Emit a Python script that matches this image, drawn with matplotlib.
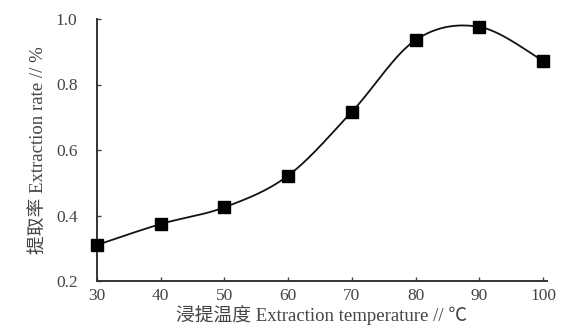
import numpy as np
import matplotlib
matplotlib.use("Agg")
import matplotlib.pyplot as plt

plt.rcParams['font.family'] = ['Liberation Serif', 'Noto Sans CJK SC', 'DejaVu Sans']

temps = [30, 40, 50, 60, 70, 80, 90, 100]
rates = [0.31, 0.374, 0.425, 0.522, 0.717, 0.936, 0.976, 0.872]
xticks = [30, 40, 50, 60, 70, 80, 90, 100]
yticks = [0.2, 0.4, 0.6, 0.8, 1.0]
ytick_labels = ["0.2", "0.4", "0.6", "0.8", "1.0"]


def smooth(x, y, n=30):
    # Excel-like smoothed line (Catmull-Rom style Bezier)
    x = np.asarray(x, float); y = np.asarray(y, float)
    px = np.concatenate([[x[0]], x, [x[-1]]])
    py = np.concatenate([[y[0]], y, [y[-1]]])
    xs, ys = [], []
    t = np.linspace(0, 1, n)
    for i in range(1, len(px) - 2):
        p0 = np.array([px[i - 1], py[i - 1]]); p1 = np.array([px[i], py[i]])
        p2 = np.array([px[i + 1], py[i + 1]]); p3 = np.array([px[i + 2], py[i + 2]])
        c1 = p1 + (p2 - p0) / 6.0
        c2 = p2 - (p3 - p1) / 6.0
        b = ((1 - t)[:, None] ** 3 * p1 + 3 * ((1 - t) ** 2 * t)[:, None] * c1
             + 3 * ((1 - t) * t ** 2)[:, None] * c2 + (t ** 3)[:, None] * p2)
        xs.extend(b[:, 0]); ys.extend(b[:, 1])
    return np.array(xs), np.array(ys)


fig = plt.figure(figsize=(5.61, 3.31), dpi=100)
ax = fig.add_axes([97 / 561, 1 - 281 / 331, (547 - 97) / 561, (281 - 19) / 331])

sx, sy = smooth(temps, rates)
ax.plot(sx, sy, color='#111111', lw=1.3, clip_on=False)
ax.plot(temps, rates, linestyle='none', marker='s', markersize=8.5, color='black', clip_on=False, zorder=5)

ax.set_xlim(30, 100.6)
ax.set_ylim(0.2, 1.0)
ax.set_xticks(xticks)
ax.set_yticks(yticks)
ax.set_yticklabels(ytick_labels)
ax.tick_params(direction='in', length=3, width=1, labelsize=12.5, colors='#444444')
ax.tick_params(axis='y', pad=14)
ax.tick_params(axis='x', pad=5)
for s in ['top', 'right']:
    ax.spines[s].set_visible(False)
for s in ['left', 'bottom']:
    ax.spines[s].set_linewidth(1.4)
    ax.spines[s].set_color('#333333')

ax.set_xlabel('浸提温度 Extraction temperature // ℃', fontsize=13.5, color='#444444', labelpad=1)
ax.set_ylabel('提取率 Extraction rate // %', fontsize=13.5, color='#444444', labelpad=6)

fig.savefig('out.png', dpi=100)
